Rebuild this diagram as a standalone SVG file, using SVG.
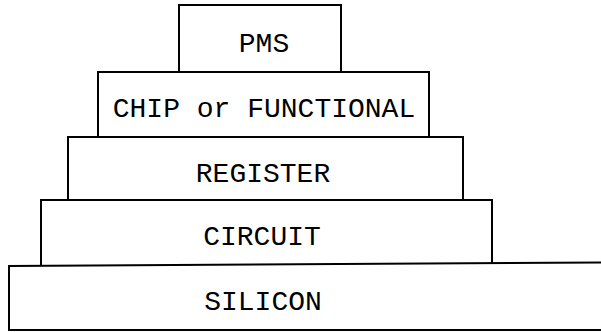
<svg xmlns="http://www.w3.org/2000/svg" width="601" height="332" viewBox="0 0 601 332">
<style>
.box{fill:none;stroke:#000;stroke-width:2}
.t{font-family:"Liberation Mono","Courier New",monospace;font-size:28px;fill:#000;text-anchor:middle}
</style>
<rect width="601" height="332" fill="#fff"/>
<g id="pms"><path class="box" d="M179,71 V5 H341 V71"/><text class="t" x="264" y="52">PMS</text></g>
<g id="chip"><path class="box" d="M98,136 V72 H429 V136"/><text class="t" x="264" y="117">CHIP or FUNCTIONAL</text></g>
<g id="register"><path class="box" d="M68,199 V137 H463 V199"/><text class="t" x="263" y="182">REGISTER</text></g>
<g id="circuit"><path class="box" d="M41,265 V200 H492 V264"/><text class="t" x="262" y="245">CIRCUIT</text></g>
<g id="silicon"><path class="box" d="M601,262.5 L9,266 V330 H601"/><text class="t" x="263" y="310">SILICON</text></g>
<g id="connectors"/>
</svg>
